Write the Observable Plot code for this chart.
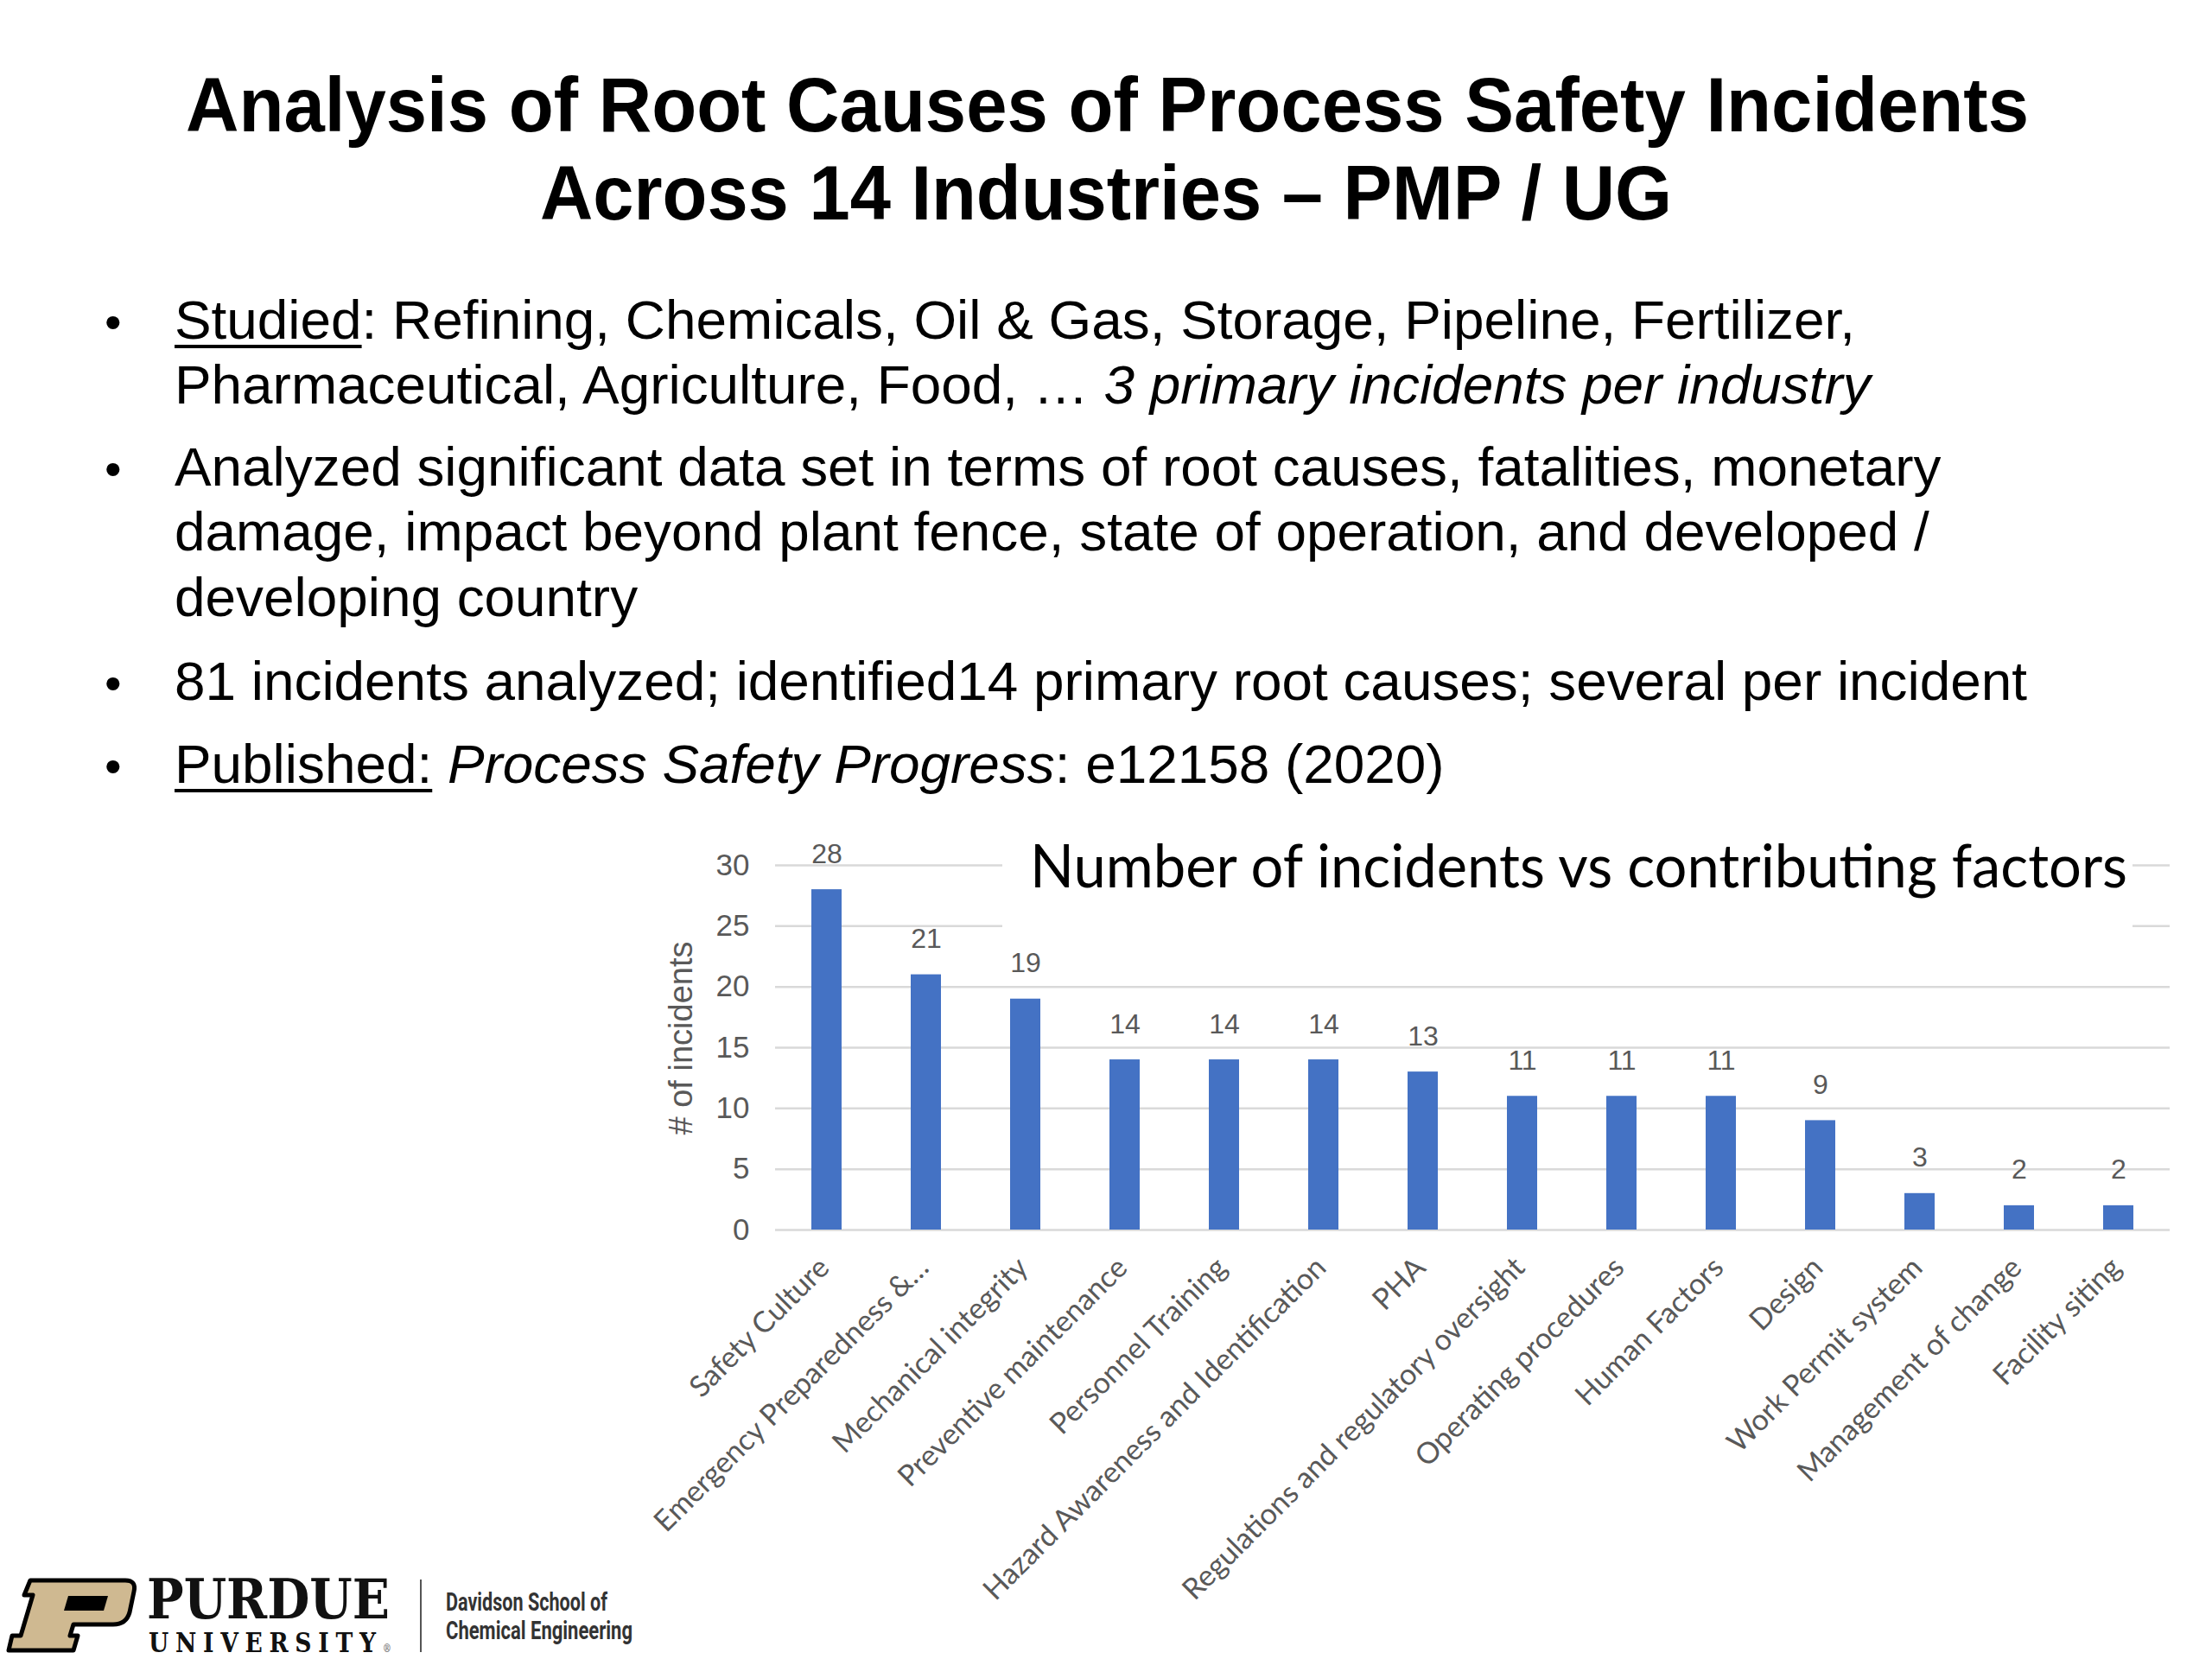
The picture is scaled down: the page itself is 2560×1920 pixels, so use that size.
<!DOCTYPE html>
<html>
<head>
<meta charset="utf-8">
<script src="https://cdn.jsdelivr.net/npm/d3@7"></script>
<script src="https://cdn.jsdelivr.net/npm/@observablehq/plot@0.6"></script>
<style>
  html, body { margin: 0; padding: 0; background: #fff; }
  #page { position: relative; width: 2560px; height: 1920px; overflow: hidden; background: #fff; }
  .t { position: absolute; white-space: nowrap; line-height: 1; transform-origin: left top; }
  .title { font-family: "Liberation Sans", Arial, sans-serif; font-weight: bold; font-size: 89px; color: #000; }
  .body { font-family: "Liberation Sans", Arial, sans-serif; font-size: 63px; color: #000; }
  .u { text-decoration: underline; text-decoration-thickness: 4px; text-underline-offset: 7px; }
  .bullet { position: absolute; font-family: "Liberation Sans", Arial, sans-serif; font-size: 56px; line-height: 1; }
  #chart { position: absolute; left: 760px; top: 960px; }
  #ctbox { position: absolute; left: 1160px; top: 975px; width: 1308px; height: 115px; background: #fff; }
  .ctitle { font-family: Lato, "Open Sans", sans-serif; font-size: 70px; color: #000; }
  .purdue { font-family: "DejaVu Serif", "Liberation Serif", serif; font-weight: bold; color: #111; }
  .dav { font-family: "Roboto", "Liberation Sans", sans-serif; font-weight: bold; color: #333; font-size: 30px; }
</style>
</head>
<body>
<div id="page">
  <div class="t title" data-w="2133" style="left:215px; top:77px;">Analysis of Root Causes of Process Safety Incidents</div>
  <div class="t title" data-w="1310" style="left:625px; top:179px;">Across 14 Industries – PMP / UG</div>

  <div class="bullet" style="left:121px; top:345px;">•</div>
  <div class="t body bl" data-w="1945" style="left:202px; top:339px;"><span class="u">Studied</span>: Refining, Chemicals, Oil &amp; Gas, Storage, Pipeline, Fertilizer,</div>
  <div class="t body bl" style="left:202px; top:414px;">Pharmaceutical, Agriculture, Food, … <i>3 primary incidents per industry</i></div>
  <div class="bullet" style="left:121px; top:515px;">•</div>
  <div class="t body bl" style="left:202px; top:509px;">Analyzed significant data set in terms of root causes, fatalities, monetary</div>
  <div class="t body bl" style="left:202px; top:584px;">damage, impact beyond plant fence, state of operation, and developed /</div>
  <div class="t body bl" style="left:202px; top:660px;">developing country</div>
  <div class="bullet" style="left:121px; top:763px;">•</div>
  <div class="t body bl" id="refline" style="left:202px; top:757px;">81 incidents analyzed; identified14 primary root causes; several per incident</div>
  <div class="bullet" style="left:121px; top:859px;">•</div>
  <div class="t body bl" style="left:202px; top:853px;"><span class="u">Published:</span> <i>Process Safety Progress</i>: e12158 (2020)</div>

  <div id="chart"></div>
  <div id="ctbox"></div>
  <div class="t ctitle" data-w="1270" style="left:1192px; top:965px;">Number of incidents vs contributing factors</div>

  <svg style="position:absolute; left:5px; top:1826px;" width="156" height="88" viewBox="0 0 156 88">
    <path d="M30,3 L140,3 Q153,3 150,16 L145,40 Q141,54 126,54 L80,54 L76,67 L85,67 L80,84 L5,84 L9,67 L19,67 L33,20 L23,20 Z" fill="#cfb991" stroke="#000" stroke-width="5" stroke-linejoin="round"/>
    <path d="M74,21 L120,21 L115,38 L69,38 Z" fill="#000"/>
  </svg>
  <div class="t purdue" data-w="281" style="left:170px; top:1819px; font-size:64px;">PURDUE</div>
  <div class="t purdue" data-w="281" style="left:172px; top:1886px; font-size:31px; letter-spacing:9px;">UNIVERSITY<span style="font-size:12px; letter-spacing:0; color:#888;">®</span></div>
  <div style="position:absolute; left:486px; top:1828px; width:2px; height:84px; background:#555;"></div>
  <div class="t dav" data-w="187" style="left:516px; top:1839px;">Davidson School of</div>
  <div class="t dav" data-w="216" style="left:516px; top:1872px;">Chemical Engineering</div>
</div>
<script>
const factors = [
  "Safety Culture",
  "Emergency Preparedness &…",
  "Mechanical integrity",
  "Preventive maintenance",
  "Personnel Training",
  "Hazard Awareness and Identification",
  "PHA",
  "Regulations and regulatory oversight",
  "Operating procedures",
  "Human Factors",
  "Design",
  "Work Permit system",
  "Management of change",
  "Facility siting"
];
const incidents = [28, 21, 19, 14, 14, 14, 13, 11, 11, 11, 9, 3, 2, 2];
const yTicks = [0, 5, 10, 15, 20, 25, 30];
const yLabel = ["# of incidents"];

const data = factors.map((f, i) => ({factor: f, count: incidents[i]}));

const chart = Plot.plot({
  width: 1800,
  height: 920,
  marginLeft: 137,
  marginRight: 49,
  marginTop: 41,
  marginBottom: 457,
  style: {fontFamily: "'Liberation Sans', Arial, sans-serif", background: "transparent", overflow: "visible"},
  x: {domain: factors, paddingInner: 0.696, paddingOuter: 0.348},
  y: {domain: [0, 30]},
  marks: [
    Plot.ruleY(yTicks, {stroke: "#d9d9d9", strokeWidth: 2.5}),
    Plot.barY(data, {x: "factor", y: "count", fill: "#4472c4"}),
    Plot.text(data, {x: "factor", y: "count", text: d => String(d.count), lineAnchor: "bottom", dy: -31, fontSize: 32, fill: "#595959"}),
    Plot.axisY({ticks: yTicks, tickSize: 0, tickPadding: 30, fontSize: 35, fill: "#595959", label: null}),
    Plot.axisX({tickRotate: -45, tickSize: 0, tickPadding: 38, dx: -3, fontSize: 34, fontFamily: "Lato, 'Open Sans', sans-serif", fill: "#595959", label: null}),
    Plot.text(yLabel, {text: d => d, frameAnchor: "left", textAnchor: "middle", rotate: -90, dx: -109, dy: -11, fontSize: 38, fill: "#595959"})
  ]
});
document.getElementById("chart").appendChild(chart);

// horizontal fitting of text blocks to the reference widths
function fit(el, target) {
  el.style.transform = "none";
  const w = el.getBoundingClientRect().width;
  el.style.transform = `scaleX(${target / w})`;
}
document.querySelectorAll("[data-w]").forEach(el => {
  if (!el.classList.contains("bl")) fit(el, +el.dataset.w);
});
const ref = document.getElementById("refline");
const s = 2144 / ref.getBoundingClientRect().width;
document.querySelectorAll(".bl").forEach(el => { el.style.transform = `scaleX(${s})`; });
</script>
</body>
</html>
